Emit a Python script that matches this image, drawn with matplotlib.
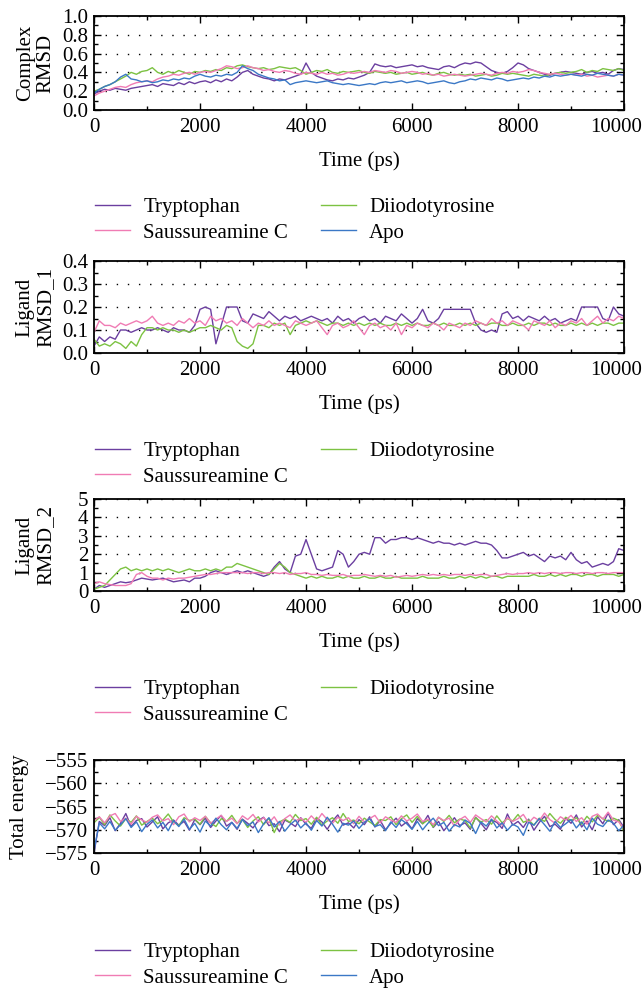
# %%
from matplotlib import pyplot as plt
from matplotlib.ticker import MultipleLocator, FuncFormatter
import numpy as np

plt.rcParams['font.family'] = ['Liberation Serif', 'DejaVu Serif']
plt.rcParams['font.size'] = 15

time_ps = np.arange(0, 10001, 100)

names = ['Tryptophan', 'Saussureamine C', 'Diiodotyrosine', 'Apo']
colors = {'Tryptophan': '#6b3fa0', 'Saussureamine C': '#f07cb4',
          'Diiodotyrosine': '#7cc242', 'Apo': '#3b78c6'}

# --- Complex RMSD
complex_tryp = [0.17, 0.20, 0.22, 0.21, 0.23, 0.22, 0.21, 0.23, 0.24, 0.25, 0.26,
                0.27, 0.25, 0.28, 0.27, 0.26, 0.29, 0.27, 0.30, 0.28, 0.30,
                0.31, 0.29, 0.32, 0.30, 0.33, 0.31, 0.35, 0.40, 0.42, 0.38,
                0.36, 0.34, 0.33, 0.31, 0.33, 0.32, 0.34, 0.36, 0.38, 0.50,
                0.40, 0.36, 0.34, 0.32, 0.31, 0.33, 0.32, 0.34, 0.33, 0.35,
                0.37, 0.40, 0.49, 0.47, 0.46, 0.47, 0.45, 0.46, 0.47, 0.48,
                0.46, 0.47, 0.45, 0.44, 0.43, 0.46, 0.47, 0.45, 0.48, 0.50,
                0.49, 0.51, 0.50, 0.46, 0.42, 0.40, 0.39, 0.41, 0.45, 0.50,
                0.48, 0.44, 0.42, 0.40, 0.38, 0.37, 0.39, 0.40, 0.41, 0.40,
                0.39, 0.38, 0.40, 0.41, 0.39, 0.40, 0.38, 0.42, 0.44, 0.43]
complex_diio = [0.20, 0.22, 0.25, 0.27, 0.30, 0.33, 0.36, 0.40, 0.38, 0.41, 0.42,
                0.45, 0.40, 0.38, 0.41, 0.39, 0.42, 0.40, 0.38, 0.41, 0.40,
                0.42, 0.41, 0.43, 0.42, 0.45, 0.44, 0.47, 0.48, 0.46, 0.45,
                0.44, 0.45, 0.43, 0.44, 0.46, 0.45, 0.44, 0.45, 0.42, 0.38,
                0.40, 0.42, 0.41, 0.43, 0.40, 0.39, 0.41, 0.40, 0.41, 0.42,
                0.40, 0.39, 0.41, 0.40, 0.39, 0.40, 0.38, 0.39, 0.40, 0.38,
                0.39, 0.40, 0.38, 0.37, 0.39, 0.40, 0.38, 0.37, 0.38, 0.37,
                0.38, 0.36, 0.37, 0.38, 0.36, 0.37, 0.39, 0.38, 0.39, 0.38,
                0.37, 0.36, 0.38, 0.37, 0.36, 0.38, 0.39, 0.40, 0.39, 0.40,
                0.41, 0.43, 0.40, 0.42, 0.41, 0.44, 0.43, 0.42, 0.44, 0.42]
complex_saus = [0.15, 0.18, 0.20, 0.22, 0.24, 0.25, 0.24, 0.27, 0.29, 0.30, 0.31,
                0.30, 0.33, 0.35, 0.36, 0.38, 0.37, 0.39, 0.40, 0.38, 0.40,
                0.41, 0.40, 0.42, 0.44, 0.47, 0.46, 0.44, 0.45, 0.47, 0.45,
                0.44, 0.42, 0.43, 0.41, 0.40, 0.42, 0.41, 0.39, 0.38, 0.40,
                0.39, 0.38, 0.40, 0.38, 0.39, 0.37, 0.38, 0.40, 0.39, 0.40,
                0.41, 0.40, 0.42, 0.41, 0.40, 0.42, 0.41, 0.39, 0.40, 0.41,
                0.40, 0.38, 0.39, 0.37, 0.38, 0.36, 0.37, 0.38, 0.37, 0.36,
                0.37, 0.38, 0.39, 0.38, 0.37, 0.39, 0.40, 0.39, 0.41, 0.40,
                0.41, 0.43, 0.42, 0.40, 0.39, 0.38, 0.39, 0.38, 0.37, 0.38,
                0.37, 0.38, 0.36, 0.37, 0.35, 0.36, 0.37, 0.36, 0.38, 0.37]
complex_apo = [0.18, 0.22, 0.25, 0.27, 0.30, 0.35, 0.38, 0.33, 0.32, 0.30, 0.31,
               0.29, 0.30, 0.32, 0.31, 0.33, 0.32, 0.34, 0.33, 0.36, 0.38,
               0.36, 0.35, 0.37, 0.36, 0.38, 0.37, 0.40, 0.47, 0.44, 0.42,
               0.38, 0.36, 0.34, 0.33, 0.31, 0.32, 0.27, 0.29, 0.30, 0.31,
               0.30, 0.29, 0.30, 0.31, 0.29, 0.28, 0.27, 0.28, 0.27, 0.26,
               0.27, 0.28, 0.27, 0.29, 0.30, 0.29, 0.30, 0.31, 0.29, 0.30,
               0.31, 0.30, 0.28, 0.29, 0.30, 0.31, 0.29, 0.28, 0.30, 0.31,
               0.33, 0.32, 0.34, 0.33, 0.32, 0.34, 0.33, 0.31, 0.32, 0.33,
               0.34, 0.33, 0.35, 0.34, 0.36, 0.35, 0.37, 0.36, 0.37, 0.38,
               0.37, 0.36, 0.38, 0.37, 0.39, 0.38, 0.37, 0.36, 0.38, 0.37]

# --- Ligand RMSD_1
lig1_tryp = [0.03, 0.07, 0.05, 0.07, 0.06, 0.10, 0.10, 0.09, 0.10, 0.11, 0.10,
             0.10, 0.11, 0.10, 0.09, 0.11, 0.10, 0.10, 0.09, 0.12, 0.19,
             0.20, 0.19, 0.04, 0.12, 0.20, 0.20, 0.20, 0.14, 0.13, 0.17,
             0.16, 0.15, 0.18, 0.16, 0.14, 0.16, 0.15, 0.16, 0.14, 0.15,
             0.16, 0.15, 0.14, 0.15, 0.13, 0.16, 0.14, 0.15, 0.13, 0.15,
             0.16, 0.14, 0.15, 0.13, 0.16, 0.15, 0.14, 0.17, 0.15, 0.13,
             0.15, 0.19, 0.14, 0.13, 0.15, 0.19, 0.19, 0.19, 0.19, 0.19,
             0.19, 0.13, 0.10, 0.09, 0.10, 0.09, 0.17, 0.18, 0.15, 0.16,
             0.14, 0.16, 0.15, 0.14, 0.16, 0.14, 0.15, 0.13, 0.14, 0.15,
             0.14, 0.20, 0.20, 0.20, 0.20, 0.15, 0.14, 0.20, 0.17, 0.16]
lig1_saus = [0.09, 0.14, 0.12, 0.12, 0.11, 0.13, 0.12, 0.13, 0.14, 0.13, 0.14,
             0.16, 0.13, 0.12, 0.13, 0.12, 0.14, 0.13, 0.15, 0.13, 0.14,
             0.12, 0.16, 0.14, 0.15, 0.13, 0.14, 0.12, 0.15, 0.13, 0.11,
             0.13, 0.12, 0.14, 0.12, 0.13, 0.12, 0.11, 0.14, 0.13, 0.12,
             0.13, 0.14, 0.11, 0.08, 0.12, 0.13, 0.11, 0.12, 0.14, 0.11,
             0.08, 0.12, 0.13, 0.11, 0.12, 0.10, 0.13, 0.08, 0.12, 0.11,
             0.13, 0.12, 0.11, 0.13, 0.12, 0.10, 0.13, 0.12, 0.11, 0.13,
             0.12, 0.14, 0.13, 0.12, 0.15, 0.13, 0.14, 0.12, 0.14, 0.13,
             0.12, 0.10, 0.14, 0.13, 0.12, 0.14, 0.11, 0.13, 0.12, 0.14,
             0.13, 0.15, 0.12, 0.14, 0.16, 0.13, 0.15, 0.14, 0.16, 0.15]
lig1_diio = [0.06, 0.03, 0.04, 0.03, 0.05, 0.04, 0.02, 0.05, 0.03, 0.08, 0.11,
             0.11, 0.10, 0.11, 0.10, 0.10, 0.09, 0.10, 0.09, 0.10, 0.11,
             0.11, 0.12, 0.11, 0.10, 0.12, 0.11, 0.05, 0.03, 0.02, 0.04,
             0.12, 0.12, 0.11, 0.13, 0.12, 0.13, 0.08, 0.12, 0.13, 0.14,
             0.13, 0.14, 0.13, 0.12, 0.13, 0.13, 0.12, 0.13, 0.12, 0.13,
             0.12, 0.13, 0.12, 0.13, 0.12, 0.12, 0.13, 0.12, 0.13, 0.12,
             0.13, 0.12, 0.12, 0.13, 0.12, 0.13, 0.12, 0.12, 0.13, 0.12,
             0.13, 0.12, 0.13, 0.12, 0.13, 0.13, 0.12, 0.12, 0.13, 0.12,
             0.12, 0.13, 0.12, 0.13, 0.13, 0.12, 0.13, 0.12, 0.12, 0.13,
             0.12, 0.13, 0.12, 0.13, 0.12, 0.13, 0.13, 0.12, 0.13, 0.13]

# --- Ligand RMSD_2
lig2_tryp = [0.1, 0.3, 0.2, 0.3, 0.4, 0.5, 0.45, 0.5, 0.6, 0.7, 0.65,
             0.6, 0.65, 0.7, 0.6, 0.5, 0.55, 0.6, 0.5, 0.7, 0.7,
             0.8, 1.0, 1.1, 1.0, 0.9, 1.0, 1.1, 1.0, 1.1, 1.0,
             0.9, 0.8, 0.9, 1.3, 1.6, 1.2, 1.0, 1.9, 2.0, 2.8,
             2.0, 1.2, 1.1, 1.2, 1.3, 2.2, 2.0, 1.3, 1.6, 2.0,
             2.1, 2.0, 2.9, 2.9, 2.6, 2.8, 2.8, 2.9, 2.9, 2.8,
             2.9, 2.8, 2.7, 2.6, 2.7, 2.6, 2.6, 2.5, 2.6, 2.5,
             2.6, 2.7, 2.6, 2.6, 2.5, 2.2, 1.8, 1.8, 1.9, 2.0,
             2.1, 1.9, 2.0, 1.8, 1.6, 1.9, 1.8, 1.9, 1.7, 2.1,
             1.7, 1.5, 1.6, 1.3, 1.4, 1.5, 1.4, 1.6, 2.3, 2.2]
lig2_saus = [0.4, 0.5, 0.4, 0.35, 0.3, 0.3, 0.3, 0.4, 0.9, 1.0, 0.8,
             0.7, 0.7, 0.6, 0.7, 0.65, 0.7, 0.7, 0.75, 0.8, 0.85,
             0.9, 0.9, 0.95, 1.0, 1.0, 1.0, 1.0, 1.0, 0.95, 1.0,
             1.0, 0.95, 1.0, 1.0, 0.95, 1.0, 0.9, 0.95, 0.95, 1.0,
             0.9, 0.9, 0.85, 0.9, 0.85, 0.85, 0.9, 0.8, 0.85, 0.85,
             0.9, 0.85, 0.8, 0.85, 0.8, 0.85, 0.75, 0.8, 0.85, 0.8,
             0.85, 0.9, 0.85, 0.9, 0.85, 0.9, 0.85, 0.9, 0.9, 0.85,
             0.9, 0.85, 0.9, 0.9, 0.8, 0.85, 0.9, 0.95, 0.9, 0.95,
             0.95, 1.0, 0.95, 1.0, 0.95, 1.0, 1.0, 0.95, 1.0, 1.0,
             0.95, 1.0, 1.0, 0.95, 1.0, 1.0, 0.95, 1.0, 1.0, 1.0]
lig2_diio = [0.1, 0.2, 0.3, 0.6, 0.9, 1.2, 1.3, 1.1, 1.2, 1.1, 1.2,
             1.1, 1.2, 1.1, 1.2, 1.1, 1.0, 1.1, 1.2, 1.1, 1.1,
             1.2, 1.1, 1.2, 1.1, 1.3, 1.3, 1.5, 1.4, 1.3, 1.2,
             1.1, 1.0, 0.9, 1.2, 1.5, 1.3, 1.0, 0.9, 0.8, 0.7,
             0.8, 0.7, 0.8, 0.7, 0.7, 0.8, 0.7, 0.8, 0.7, 0.7,
             0.8, 0.7, 0.7, 0.8, 0.7, 0.7, 0.8, 0.7, 0.7, 0.7,
             0.7, 0.8, 0.7, 0.7, 0.7, 0.8, 0.7, 0.7, 0.8, 0.7,
             0.8, 0.7, 0.8, 0.7, 0.8, 0.8, 0.7, 0.8, 0.8, 0.8,
             0.8, 0.8, 0.9, 0.8, 0.8, 0.9, 0.8, 0.9, 0.8, 0.9,
             0.9, 0.8, 0.9, 0.9, 0.8, 0.9, 0.9, 0.9, 0.8, 0.9]

# --- Total energy
energy_tryp = [-575.0, -568.2, -569.1, -567.4, -570.2, -568.6, -566.5, -569.3, -568.0, -567.6,
               -569.4, -568.3, -567.2, -569.8, -568.5, -567.9, -569.0, -568.2, -570.1, -567.8,
               -568.9, -567.5, -569.5, -568.1, -566.9, -569.2, -568.4, -569.9, -567.7, -568.6,
               -569.6, -568.0, -567.3, -569.1, -568.7, -570.4, -567.9, -568.5, -569.3, -567.4,
               -568.8, -569.7, -567.5, -568.3, -569.9, -568.1, -566.8, -569.0, -568.5, -569.6,
               -567.8, -568.9, -567.2, -569.4, -568.0, -570.0, -568.6, -567.5, -569.2, -568.3,
               -569.8, -567.6, -568.7, -566.9, -569.5, -568.2, -570.2, -568.8, -567.4, -569.1,
               -568.5, -569.9, -567.3, -568.6, -570.0, -567.9, -568.4, -569.7, -566.6, -569.0,
               -568.2, -569.5, -567.7, -570.1, -568.4, -567.1, -569.3, -568.8, -569.9, -567.5,
               -568.6, -566.8, -569.4, -568.1, -570.0, -567.2, -568.7, -566.4, -568.9, -567.8, -569.5]
energy_saus = [-568.0, -567.2, -568.5, -567.0, -566.5, -568.2, -567.5, -568.8, -567.1, -567.9,
               -568.4, -567.3, -566.8, -568.1, -567.6, -568.9, -567.2, -566.6, -568.3, -567.4,
               -568.0, -567.1, -568.6, -567.7, -566.9, -568.2, -567.5, -568.7, -567.0, -567.8,
               -566.7, -568.3, -567.4, -568.5, -567.2, -569.0, -567.6, -566.8, -568.1, -567.5,
               -568.4, -567.0, -568.2, -566.5, -567.8, -568.6, -567.3, -568.0, -567.4, -568.7,
               -567.1, -568.3, -567.6, -566.9, -568.5, -567.2, -567.9, -568.4, -567.0, -568.1,
               -567.5, -566.6, -568.2, -567.7, -568.9, -567.3, -568.0, -567.5, -569.2, -567.8,
               -567.1, -568.4, -566.8, -567.6, -568.3, -567.0, -568.1, -569.0, -567.4, -568.2,
               -567.6, -566.7, -568.5, -567.3, -568.0, -566.4, -567.8, -568.6, -567.2, -567.9,
               -566.9, -568.2, -567.4, -568.8, -567.1, -566.6, -567.7, -566.2, -567.9, -568.3, -569.8]
energy_diio = [-568.5, -567.3, -568.9, -566.8, -568.1, -569.2, -567.6, -568.4, -567.0, -569.0,
               -568.2, -567.5, -568.7, -567.9, -566.6, -568.3, -569.1, -567.4, -568.0, -567.7,
               -568.8, -567.1, -568.5, -569.3, -567.6, -568.2, -566.9, -568.6, -567.8, -569.5,
               -568.1, -567.2, -568.9, -567.5, -570.6, -568.3, -567.7, -568.4, -566.7, -568.0,
               -567.6, -568.8, -567.3, -569.0, -568.1, -567.4, -568.6, -566.5, -568.2, -567.9,
               -568.7, -567.5, -568.3, -569.1, -567.8, -568.0, -567.2, -568.9, -567.6, -566.8,
               -568.4, -567.1, -568.7, -567.9, -569.4, -567.3, -568.2, -566.9, -568.5, -567.7,
               -568.0, -569.6, -567.4, -568.3, -567.8, -568.8, -567.0, -568.5, -567.6, -568.1,
               -566.7, -568.4, -567.9, -569.0, -567.5, -568.2, -566.5, -567.8, -568.6, -567.3,
               -568.0, -567.4, -568.8, -567.1, -568.3, -566.9, -567.6, -568.2, -567.5, -568.0, -570.4]
energy_apo = [-574.5, -568.5, -569.8, -568.2, -570.1, -568.9, -567.6, -569.5, -568.3, -570.4,
              -568.8, -567.9, -569.6, -568.4, -570.2, -568.0, -569.3, -567.7, -569.9, -568.6,
              -570.5, -568.1, -569.2, -567.5, -568.9, -570.0, -568.4, -569.7, -567.8, -569.1,
              -568.3, -570.6, -568.7, -567.4, -569.4, -568.2, -570.3, -568.9, -567.9, -569.6,
              -568.5, -570.1, -568.0, -569.2, -567.3, -568.8, -570.5, -568.6, -569.0, -568.1,
              -569.7, -568.4, -567.6, -569.3, -568.9, -570.2, -568.3, -569.5, -567.8, -568.7,
              -569.9, -568.2, -570.0, -568.6, -567.5, -569.1, -568.4, -570.3, -568.9, -569.4,
              -567.9, -568.6, -570.8, -568.3, -569.2, -567.7, -569.6, -568.5, -570.1, -568.8,
              -569.4, -571.2, -568.4, -569.0, -567.6, -568.9, -570.3, -568.2, -569.5, -568.7,
              -567.8, -569.6, -568.3, -570.0, -567.5, -568.8, -569.3, -567.9, -568.6, -570.2, -569.0]

TICK_PAD = 6


def x_fmt(v, pos):
    # the last label is drawn separately, shifted left so it stays inside the figure
    return '' if v >= 10000 else f'{v:.0f}'


def draw_panel(fig, rect, series, ylim, ystep, yminor, ylabel, label_x, legend_y, yfmt=None):
    ax = fig.add_axes(rect)
    for name, vals in series:
        ax.plot(time_ps, vals, color=colors[name], lw=1.0, label=name)
    ax.set_xlim(0, 10000)
    ax.set_ylim(*ylim)
    ax.xaxis.set_major_locator(MultipleLocator(2000))
    ax.xaxis.set_minor_locator(MultipleLocator(1000))
    ax.xaxis.set_major_formatter(FuncFormatter(x_fmt))
    ax.yaxis.set_major_locator(MultipleLocator(ystep))
    ax.yaxis.set_minor_locator(MultipleLocator(yminor))
    if yfmt:
        ax.yaxis.set_major_formatter(FuncFormatter(yfmt))
    ax.tick_params(which='both', direction='in', top=True, right=True, width=1.0)
    ax.tick_params(which='major', length=5)
    ax.tick_params(axis='x', which='major', pad=TICK_PAD)
    ax.tick_params(axis='y', which='major', pad=4)
    ax.tick_params(which='minor', length=3)
    for s in ax.spines.values():
        s.set_linewidth(1.3)
    ax.yaxis.grid(True, which='major', color='black', linestyle=(0, (1, 7)), lw=1.0)
    ax.annotate('10000', xy=(1, 0), xycoords='axes fraction', xytext=(-6, -TICK_PAD),
                textcoords='offset points', ha='center', va='top')
    ax.set_xlabel('Time (ps)', labelpad=10)
    ax.set_ylabel(ylabel, linespacing=1.15)
    ax.yaxis.set_label_coords(label_x, 0.5)

    handles, labels = ax.get_legend_handles_labels()
    order = [names.index(l) for l in labels]
    pairs = sorted(zip(order, handles, labels))
    handles = [p[1] for p in pairs]
    labels = [p[2] for p in pairs]
    fig.legend(handles, labels, loc='center left', bbox_to_anchor=(0.132, legend_y),
               ncol=2, frameon=False, handlelength=1.65, handletextpad=0.65,
               columnspacing=1.6, labelspacing=0.3, borderpad=0)
    return ax


fig = plt.figure(figsize=(6.43, 9.88), dpi=100)

draw_panel(fig, [0.1462, 0.8887, 0.8243, 0.0951],
           [('Tryptophan', complex_tryp), ('Diiodotyrosine', complex_diio),
            ('Saussureamine C', complex_saus), ('Apo', complex_apo)],
           (0, 1.0), 0.2, 0.1, 'Complex\nRMSD', -0.072, 1 - 220 / 988)

draw_panel(fig, [0.1462, 0.6427, 0.8243, 0.0931],
           [('Tryptophan', lig1_tryp), ('Diiodotyrosine', lig1_diio),
            ('Saussureamine C', lig1_saus)],
           (0, 0.4), 0.1, 0.05, 'Ligand\nRMSD_1', -0.072, 1 - 464 / 988)

draw_panel(fig, [0.1462, 0.4018, 0.8243, 0.0931],
           [('Tryptophan', lig2_tryp), ('Diiodotyrosine', lig2_diio),
            ('Saussureamine C', lig2_saus)],
           (0, 5), 1, 0.5, 'Ligand\nRMSD_2', -0.072, 1 - 702 / 988,
           yfmt=lambda v, p: f'{v:.0f}')

draw_panel(fig, [0.1462, 0.1366, 0.8243, 0.0941],
           [('Tryptophan', energy_tryp), ('Diiodotyrosine', energy_diio),
            ('Saussureamine C', energy_saus), ('Apo', energy_apo)],
           (-575, -555), 5, 2.5, 'Total energy', -0.123, 1 - 965 / 988)

fig.savefig('out.png', dpi=100)
